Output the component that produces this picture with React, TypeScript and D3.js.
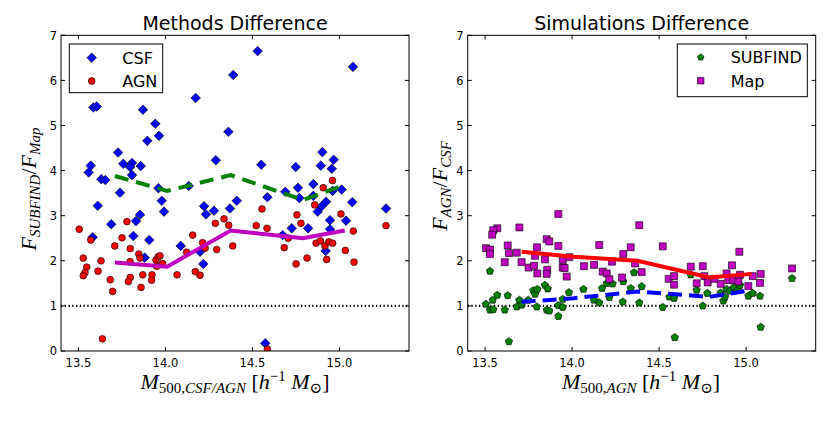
import React from "react";
import * as d3 from "d3";

// ---------- data ----------
const xTicks = [13.5, 14.0, 14.5, 15.0];
const yTicks = [0, 1, 2, 3, 4, 5, 6, 7];

const csfX = [14.53, 15.078, 14.39, 14.174, 13.586, 13.605, 13.871, 13.942, 14.362, 13.896, 13.963, 13.728, 14.902, 13.571, 13.559, 13.758, 13.808, 13.797, 13.858, 13.808, 14.29, 14.551, 14.749, 14.893, 14.967, 14.956, 13.632, 13.655, 13.96, 14.134, 14.85, 14.762, 13.739, 13.979, 13.992, 13.611, 13.689, 13.854, 13.831, 13.816, 13.907, 13.582, 13.881, 14.088, 14.218, 14.199, 14.222, 14.233, 14.279, 14.371, 14.41, 14.586, 14.689, 14.674, 14.726, 14.77, 14.85, 14.82, 14.875, 14.898, 14.923, 14.946, 14.946, 14.921, 14.961, 15.013, 15.038, 15.074, 15.268, 14.574];
const csfY = [6.65, 6.3, 6.12, 5.61, 5.4, 5.42, 5.35, 5.04, 4.86, 4.66, 4.77, 4.4, 4.41, 4.11, 3.96, 4.15, 4.17, 4.08, 4.1, 3.9, 4.23, 4.13, 4.08, 4.11, 4.24, 4.04, 3.81, 3.79, 3.61, 3.66, 3.7, 3.62, 3.51, 3.33, 3.09, 3.22, 2.81, 3.02, 2.88, 2.55, 2.46, 2.52, 2.07, 2.33, 1.93, 2.2, 3.21, 3.03, 3.11, 3.16, 3.33, 3.41, 3.53, 2.57, 2.72, 3.39, 3.44, 2.72, 3.09, 3.21, 3.31, 2.9, 2.7, 2.22, 3.55, 3.58, 2.89, 3.3, 3.16, 0.17];

const agnX = [13.505, 13.528, 13.548, 13.538, 13.528, 13.571, 13.613, 13.63, 13.638, 13.683, 13.697, 13.709, 13.751, 13.779, 13.798, 13.797, 13.798, 13.787, 13.847, 13.854, 13.87, 13.86, 13.923, 13.921, 13.946, 13.959, 13.969, 13.984, 13.95, 14.067, 14.122, 14.157, 14.172, 14.199, 14.214, 14.228, 14.287, 14.295, 14.337, 14.364, 14.387, 14.522, 14.555, 14.584, 14.586, 14.683, 14.706, 14.751, 14.756, 14.779, 14.814, 14.858, 14.866, 14.891, 14.917, 14.927, 14.939, 14.961, 14.907, 14.96, 15.009, 15.034, 15.08, 15.084, 15.268];
const agnY = [2.7, 2.06, 1.86, 1.74, 1.67, 2.46, 1.77, 2.0, 0.27, 1.58, 1.32, 2.33, 2.51, 2.87, 2.27, 1.98, 1.63, 1.54, 2.15, 2.06, 1.69, 1.41, 1.69, 1.57, 2.02, 2.09, 2.11, 1.94, 1.88, 1.69, 2.19, 2.57, 1.76, 1.68, 2.4, 2.28, 2.83, 2.25, 2.93, 2.79, 2.33, 2.78, 3.15, 2.72, 0.04, 2.29, 2.5, 1.93, 3.02, 2.83, 2.06, 3.24, 2.39, 2.44, 2.33, 2.03, 2.42, 2.39, 3.62, 3.78, 3.04, 2.23, 2.66, 1.97, 2.78];

const subfindX = [13.528, 13.505, 13.528, 13.544, 13.547, 13.57, 13.613, 13.63, 13.637, 13.682, 13.697, 13.71, 13.748, 13.777, 13.787, 13.8, 13.797, 13.844, 13.86, 13.854, 13.869, 13.921, 13.921, 13.946, 13.946, 13.982, 14.065, 14.126, 14.156, 14.172, 14.199, 14.214, 14.233, 14.291, 14.294, 14.337, 14.356, 14.386, 14.4, 14.521, 14.559, 14.586, 14.59, 14.682, 14.716, 14.751, 14.777, 14.854, 14.869, 14.879, 14.888, 14.907, 14.93, 14.955, 14.965, 15.013, 15.038, 15.08, 15.084, 15.264];
const subfindY = [1.77, 1.04, 0.91, 1.13, 0.92, 1.24, 0.91, 1.23, 0.21, 0.98, 1.13, 1.02, 1.13, 1.34, 1.26, 1.37, 0.98, 1.46, 1.38, 0.91, 0.89, 0.77, 1.01, 0.97, 1.15, 1.3, 1.37, 1.13, 1.07, 1.39, 1.5, 1.19, 1.49, 1.09, 1.54, 1.39, 1.74, 1.07, 1.43, 0.97, 1.2, 1.17, 0.3, 1.69, 1.35, 1.0, 1.28, 1.29, 1.11, 1.2, 1.37, 1.33, 1.41, 1.35, 1.46, 1.22, 1.28, 1.22, 0.53, 1.61];

const mapX = [13.921, 14.386, 13.697, 13.57, 13.547, 13.541, 13.505, 13.528, 13.528, 13.63, 13.637, 13.682, 13.613, 13.71, 13.75, 13.781, 13.8, 13.798, 13.787, 13.854, 13.869, 13.844, 13.857, 13.854, 13.921, 13.946, 13.946, 13.957, 13.969, 13.984, 14.068, 14.126, 14.156, 14.176, 14.199, 14.214, 14.229, 14.294, 14.287, 14.337, 14.362, 14.4, 14.521, 14.555, 14.586, 14.586, 14.682, 14.751, 14.716, 14.76, 14.779, 14.817, 14.854, 14.888, 14.919, 14.898, 14.926, 14.961, 14.965, 14.955, 15.013, 15.038, 15.084, 15.08, 15.264];
const mapY = [3.04, 2.79, 2.74, 2.72, 2.68, 2.58, 2.28, 2.25, 2.15, 2.34, 2.17, 2.18, 1.97, 1.97, 1.85, 1.89, 1.72, 2.3, 2.11, 2.48, 2.43, 2.03, 1.8, 1.71, 2.33, 2.02, 1.85, 1.84, 1.65, 2.08, 1.88, 1.91, 2.35, 1.76, 1.72, 1.59, 1.98, 2.15, 1.63, 2.3, 1.94, 1.75, 2.32, 1.6, 1.66, 1.47, 1.87, 1.88, 1.5, 1.66, 1.52, 1.6, 1.49, 1.72, 1.9, 1.57, 1.57, 2.2, 1.69, 1.54, 1.44, 1.66, 1.71, 1.51, 1.83];

const medianX = [13.71, 14.01, 14.375, 14.79, 15.03];
const csfMedian = [3.88, 3.55, 3.9, 3.35, 3.68];
const agnMedian = [1.96, 1.87, 2.67, 2.5, 2.67];
const mapMedian = [2.2, 2.09, 2.0, 1.63, 1.71];
const subfindMedian = [1.09, 1.17, 1.32, 1.2, 1.35];

// ---------- layout ----------
const W = 830;
const H = 421;
const top = 35.3;
const bottom = 351;
const leftPanel = { x0: 61, x1: 409 };
const rightPanel = { x0: 467.7, x1: 815.7 };

const yScale = d3.scaleLinear().domain([0, 7]).range([bottom, top]);

const BLUE = "#0000ff";
const RED = "#ff0000";
const GREEN = "#008000";
const MAG = "#bf00bf";

const diamond = (r: number) => `M0,${-r}L${r},0L0,${r}L${-r},0Z`;
const square = (s: number) => `M${-s / 2},${-s / 2}h${s}v${s}h${-s}Z`;
const pentagon = (r: number) => {
  const pts = d3.range(5).map((k) => {
    const a = -Math.PI / 2 + (k * 2 * Math.PI) / 5;
    return [r * Math.cos(a), r * Math.sin(a)];
  });
  return "M" + pts.map((p) => p.join(",")).join("L") + "Z";
};

const tickFont = "DejaVu Sans, sans-serif";
const mathFont = "Liberation Serif, DejaVu Serif, serif";

function Axes({
  id,
  px,
  title,
  children,
}: {
  id: string;
  px: { x0: number; x1: number };
  title: string;
  children: (x: d3.ScaleLinear<number, number>) => React.ReactNode;
}) {
  const x = d3.scaleLinear().domain([13.4, 15.4]).range([px.x0, px.x1]);
  const cx = (px.x0 + px.x1) / 2;
  return (
    <g>
      <defs>
        <clipPath id={id}>
          <rect x={px.x0} y={top} width={px.x1 - px.x0} height={bottom - top} />
        </clipPath>
      </defs>
      <g clipPath={`url(#${id})`}>
        <line
          x1={px.x0}
          x2={px.x1}
          y1={yScale(1)}
          y2={yScale(1)}
          stroke="#000"
          strokeWidth={2.3}
          strokeDasharray="1.3,2.45"
        />
        {children(x)}
      </g>
      <rect x={px.x0} y={top} width={px.x1 - px.x0} height={bottom - top} fill="none" stroke="#000" strokeWidth={1} />
      {xTicks.map((t) => (
        <g key={"xt" + t}>
          <line x1={x(t)} x2={x(t)} y1={bottom} y2={bottom - 4} stroke="#000" />
          <line x1={x(t)} x2={x(t)} y1={top} y2={top + 4} stroke="#000" />
          <text x={x(t)} y={366.5} textAnchor="middle" fontFamily={tickFont} fontSize={11.5}>
            {t.toFixed(1)}
          </text>
        </g>
      ))}
      {yTicks.map((t) => (
        <g key={"yt" + t}>
          <line x1={px.x0} x2={px.x0 + 4} y1={yScale(t)} y2={yScale(t)} stroke="#000" />
          <line x1={px.x1} x2={px.x1 - 4} y1={yScale(t)} y2={yScale(t)} stroke="#000" />
          <text x={px.x0 - 4} y={yScale(t) + 4.2} textAnchor="end" fontFamily={tickFont} fontSize={11.5}>
            {t}
          </text>
        </g>
      ))}
      <text x={cx} y={30} textAnchor="middle" fontFamily={tickFont} fontSize={19}>
        {title}
      </text>
    </g>
  );
}

function Median({
  x,
  ys,
  color,
  dash,
}: {
  x: d3.ScaleLinear<number, number>;
  ys: number[];
  color: string;
  dash?: string;
}) {
  const line = d3
    .line<number>()
    .x((_, i) => x(medianX[i]))
    .y((v) => yScale(v));
  return (
    <path d={line(ys) || ""} fill="none" stroke={color} strokeWidth={4} strokeDasharray={dash} />
  );
}

export default function App() {
  return (
    <svg
      width={W}
      height={H}
      style={{ position: "absolute", left: 0, top: 0, display: "block", background: "#fff" }}
    >
      <rect x={0} y={0} width={W} height={H} fill="#fff" />
      <Axes id="clipL" px={leftPanel} title="Methods Difference">
        {(x) => (
          <g>
            {csfX.map((v, i) => (
              <path
                key={"c" + i}
                d={diamond(4.8)}
                transform={`translate(${x(v)},${yScale(csfY[i])})`}
                fill={BLUE}
                stroke="#000"
                strokeWidth={0.6}
              />
            ))}
            {agnX.map((v, i) => (
              <circle
                key={"a" + i}
                cx={x(v)}
                cy={yScale(agnY[i])}
                r={3.4}
                fill={RED}
                stroke="#000"
                strokeWidth={0.6}
              />
            ))}
            <Median x={x} ys={csfMedian} color={GREEN} dash="14,8" />
            <Median x={x} ys={agnMedian} color={MAG} />
          </g>
        )}
      </Axes>
      <Axes id="clipR" px={rightPanel} title="Simulations Difference">
        {(x) => (
          <g>
            {subfindX.map((v, i) => (
              <path
                key={"s" + i}
                d={pentagon(3.9)}
                transform={`translate(${x(v)},${yScale(subfindY[i])})`}
                fill={GREEN}
                stroke="#000"
                strokeWidth={0.6}
              />
            ))}
            {mapX.map((v, i) => (
              <path
                key={"m" + i}
                d={square(7)}
                transform={`translate(${x(v)},${yScale(mapY[i])})`}
                fill={MAG}
                stroke="#000"
                strokeWidth={0.6}
              />
            ))}
            <Median x={x} ys={mapMedian} color={RED} />
            <Median x={x} ys={subfindMedian} color={BLUE} dash="14,7" />
          </g>
        )}
      </Axes>

      {/* left legend */}
      <rect x={69.3} y={44} width={93.4} height={48.7} fill="#fff" stroke="#000" strokeWidth={1} />
      <path d={diamond(4.8)} transform="translate(91.7,57.7)" fill={BLUE} stroke="#000" strokeWidth={0.6} />
      <circle cx={91.7} cy={81} r={3.4} fill={RED} stroke="#000" strokeWidth={0.6} />
      <text x={122.3} y={63.5} fontFamily={tickFont} fontSize={16}>CSF</text>
      <text x={122.3} y={86.8} fontFamily={tickFont} fontSize={16}>AGN</text>

      {/* right legend */}
      <rect x={677.3} y={44} width={130} height={52.7} fill="#fff" stroke="#000" strokeWidth={1} />
      <path d={pentagon(3.4)} transform="translate(700.7,57.3)" fill={GREEN} stroke="#000" strokeWidth={0.6} />
      <path d={square(6.5)} transform="translate(700.7,80.7)" fill={MAG} stroke="#000" strokeWidth={0.6} />
      <text x={730.7} y={63} fontFamily={tickFont} fontSize={16}>SUBFIND</text>
      <text x={730.7} y={86.5} fontFamily={tickFont} fontSize={16}>Map</text>

      {/* x labels */}
      <text x={235} y={389} textAnchor="middle" fontFamily={mathFont} fontSize={22}>
        <tspan fontStyle="italic">M</tspan>
        <tspan fontSize={15} dy={4}>500,</tspan>
        <tspan fontSize={15} fontStyle="italic">CSF/AGN</tspan>
        <tspan dy={-4}> [</tspan>
        <tspan fontStyle="italic">h</tspan>
        <tspan fontSize={15} dy={-8}>−1</tspan>
        <tspan dy={8} fontStyle="italic"> M</tspan>
        <tspan fontSize={15} dy={4}>⊙</tspan>
        <tspan dy={-4}>]</tspan>
      </text>
      <text x={641} y={389} textAnchor="middle" fontFamily={mathFont} fontSize={22}>
        <tspan fontStyle="italic">M</tspan>
        <tspan fontSize={15} dy={4}>500,</tspan>
        <tspan fontSize={15} fontStyle="italic">AGN</tspan>
        <tspan dy={-4}> [</tspan>
        <tspan fontStyle="italic">h</tspan>
        <tspan fontSize={15} dy={-8}>−1</tspan>
        <tspan dy={8} fontStyle="italic"> M</tspan>
        <tspan fontSize={15} dy={4}>⊙</tspan>
        <tspan dy={-4}>]</tspan>
      </text>

      {/* y labels */}
      <text
        transform="translate(36,189) rotate(-90)"
        textAnchor="middle"
        fontFamily={mathFont}
        fontSize={22}
      >
        <tspan fontStyle="italic">F</tspan>
        <tspan fontSize={15} dy={4} fontStyle="italic">SUBFIND</tspan>
        <tspan dy={-4}>/</tspan>
        <tspan fontStyle="italic">F</tspan>
        <tspan fontSize={15} dy={4} fontStyle="italic">Map</tspan>
      </text>
      <text
        transform="translate(447,186) rotate(-90)"
        textAnchor="middle"
        fontFamily={mathFont}
        fontSize={22}
      >
        <tspan fontStyle="italic">F</tspan>
        <tspan fontSize={15} dy={4} fontStyle="italic">AGN</tspan>
        <tspan dy={-4}>/</tspan>
        <tspan fontStyle="italic">F</tspan>
        <tspan fontSize={15} dy={4} fontStyle="italic">CSF</tspan>
      </text>
    </svg>
  );
}
